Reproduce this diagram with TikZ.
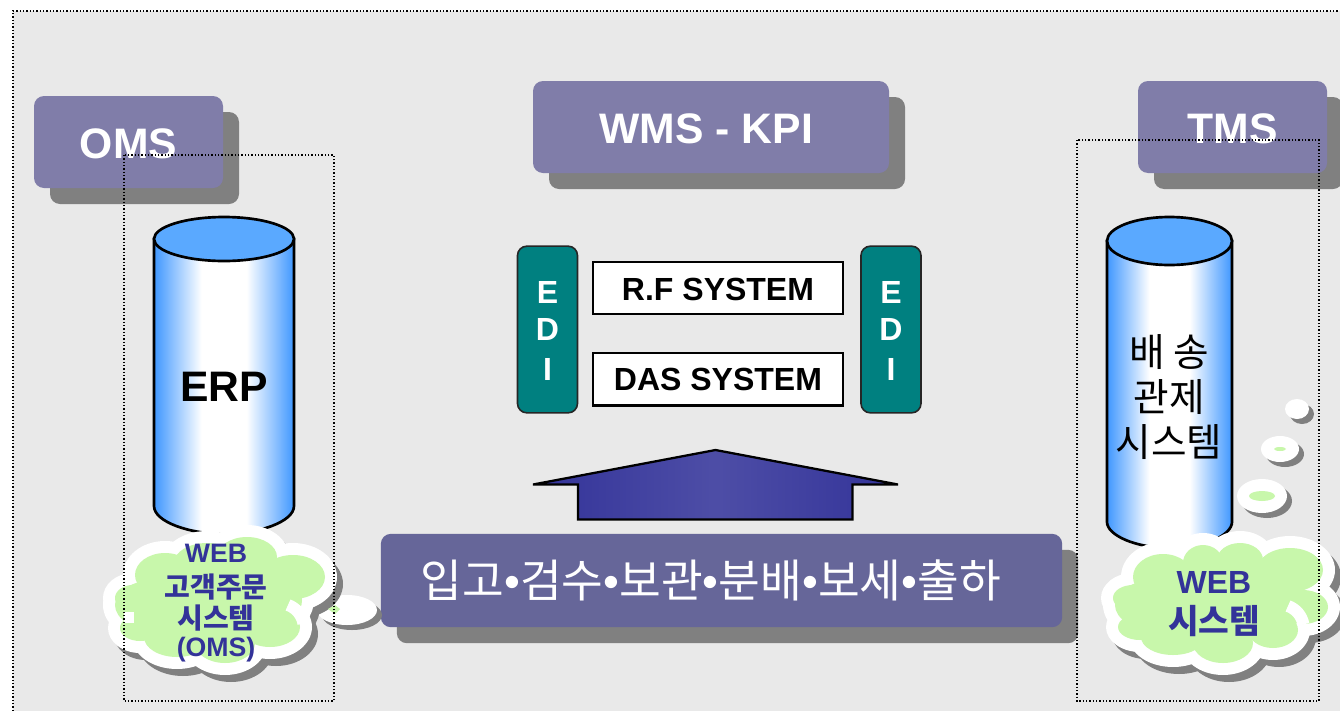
\documentclass[tikz,border=0pt]{standalone}
\usepackage{fontspec}
\setmainfont{Liberation Sans}
\newfontfamily\krfont{Noto Sans CJK KR}
\usetikzlibrary{shadows}
\usetikzlibrary{positioning}
\definecolor{panelgray}{HTML}{E9E9E9}
\definecolor{boxviolet}{HTML}{807DA9}
\definecolor{bandviolet}{HTML}{666699}
\definecolor{edigreen}{HTML}{008080}
\definecolor{cloudgreen}{HTML}{C8F7AB}
\definecolor{cloudtext}{HTML}{333399}
\definecolor{cylblue}{HTML}{3F97FF}
\definecolor{cyltop}{HTML}{5AA9FF}
\pgfdeclarehorizontalshading{cylshade}{100bp}{color(0bp)=(cylblue); color(25bp)=(cylblue); color(42bp)=(white); color(58bp)=(white); color(75bp)=(cylblue); color(100bp)=(cylblue)}
\pgfdeclarehorizontalshading{arrowshade}{100bp}{color(0bp)=(cloudtext); color(25bp)=(cloudtext); color(50bp)=(cloudtext!87!white); color(75bp)=(cloudtext); color(100bp)=(cloudtext)}
\newcommand{\lowered}[1]{\raisebox{-1.2pt}[\height][\depth]{#1}}
\tikzset{
  headbox/.style={rounded corners=7.5pt, fill=boxviolet, text=white, font=\bfseries\fontsize{32pt}{32pt}\selectfont,
    drop shadow={shadow xshift=12pt, shadow yshift=-12pt, fill=black!50, opacity=1}},
  edibox/.style={draw=black!85, line width=1.2pt, rounded corners=7pt, fill=edigreen, text=white, align=center,
    minimum width=45pt, minimum height=125pt, inner sep=0pt, font=\bfseries\fontsize{24pt}{29pt}\selectfont},
  sysbox/.style={draw=black, line width=1.6pt, fill=white, minimum width=187pt, minimum height=39.5pt, inner sep=0pt,
    font=\bfseries\fontsize{24pt}{24pt}\selectfont},
  cyllabel/.style={align=center, inner sep=0pt},
  cloudlabel/.style={align=center, inner sep=0pt, text=cloudtext},
  dotbox/.style={dash pattern=on 1.1pt off 1.4pt, line width=1.1pt}
}
% lobes are x/y/rx/ry in pixels
\newcommand{\cloudlobes}[3]{%
  \foreach \x/\y/\a/\b in {#1}
    \fill[#2] (\x,\y) ellipse[x radius=\a+#3, y radius=\b+#3];}
\newcommand{\fullcloud}[1]{%
  \begin{scope}[shift={(6,7)}]\cloudlobes{#1}{black!50}{12}\end{scope}
  \cloudlobes{#1}{white}{12}
  \cloudlobes{#1}{cloudgreen}{0}}
\newcommand{\bubble}[6]{%
  \fill[black!50] (#1+5,#2+5) ellipse[x radius=#3, y radius=#4];
  \fill[white] (#1,#2) ellipse[x radius=#3, y radius=#4];
  \fill[cloudgreen] (#1,#2) ellipse[x radius=#5, y radius=#6];}
\begin{document}
\begin{tikzpicture}[x=0.75pt, y=-0.75pt]
  \useasboundingbox (0,0) rectangle (1340,711);
  \fill[panelgray] (13,11) rectangle (1340,711);
  \draw[dotbox] (13,711) -- (13,11) -- (1340,11);

  % header boxes
  \node[headbox, minimum width=141.75pt, minimum height=69pt] (oms) at (128.5,142) {\lowered{OMS}};
  \node[headbox, minimum width=267pt, minimum height=69pt] (wms) at (711,127) {\hspace{-7pt}\lowered{WMS - KPI}};
  \node[headbox, minimum width=141.75pt, minimum height=69pt] (tms) at (1232.5,127) {\lowered{TMS}};

  % cylinders
  \draw[line width=2pt, shading=cylshade, shading angle=0] (154,239) -- (154,506) .. controls (154,522) and (190,534) .. (224,534) .. controls (258,534) and (294,522) .. (294,506) -- (294,239) -- cycle;
  \draw[line width=2pt, fill=cyltop] (224,239) ellipse[x radius=70, y radius=22];
  \node[cyllabel, font=\bfseries\fontsize{32pt}{32pt}\selectfont] (erp) at (224,387) {ERP};

  \draw[line width=2pt, shading=cylshade, shading angle=0] (1107,241) -- (1107,522) .. controls (1107,535) and (1135,548) .. (1170,548) .. controls (1205,548) and (1232,535) .. (1232,522) -- (1232,241) -- cycle;
  \draw[line width=2pt, fill=cyltop] (1169.5,241) ellipse[x radius=62.5, y radius=24];
  \node[cyllabel, font=\krfont\fontsize{29pt}{33.5pt}\selectfont] (ctrl) at (1169,397) {배 송\\관제\\시스템};

  % centre stack
  \node[edibox] (edil) at (547.5,329.5) {\lowered{E}\\D\\\lowered{I}};
  \node[sysbox] (rf) at (718,288) {\lowered{R.F SYSTEM}};
  \node[sysbox, below=27.3pt of rf] (das) {DAS SYSTEM};
  \node[edibox] (edir) at (891,329.5) {\lowered{E}\\D\\\lowered{I}};

  % up arrow
  \draw[line width=1.7pt, shading=arrowshade, shading angle=0] (533,484.5) -- (715.5,450) -- (898,484.5) -- (852.5,484.5) -- (852.5,519.5) -- (578,519.5) -- (578,484.5) -- cycle;

  % process band
  \node[rounded corners=7.5pt, fill=bandviolet, text=white, minimum width=511pt, minimum height=70pt,
    drop shadow={shadow xshift=12pt, shadow yshift=-12pt, fill=black!50, opacity=1},
    font=\krfont\fontsize{34pt}{34pt}\selectfont] (proc) at (721.5,580.5)
    {\hspace{-16pt}입고{\rmfamily•}검수{\rmfamily•}보관{\rmfamily•}분배{\rmfamily•}보세{\rmfamily•}출하};

  % left cloud
  \bubble{347}{610}{30}{15}{0}{0}
  \fullcloud{165/575/30/22, 133/598/18/13, 140/628/20/13, 177/637/33/20, 225/643/30/20, 270/627/30/20, 293/577/32/22, 247/557/30/20, 207/563/33/20, 220/600/82/42, 155/605/40/25}
  \draw[white, line width=9pt] (288,605) arc[start angle=-70, end angle=-10, radius=24];
  \fill[white] (124,612) rectangle (134,623);
  \fill[cloudgreen] (328,609) -- (335,605) -- (340,609) -- (335,614) -- cycle;
  \node[cloudlabel, font=\bfseries\fontsize{20pt}{24pt}\selectfont] (weba) at (216,553) {WEB};
  \node[cloudlabel, font=\krfont\bfseries\fontsize{21pt}{24pt}\selectfont] (webb) at (216,587) {고객주문};
  \node[cloudlabel, font=\krfont\bfseries\fontsize{21pt}{24pt}\selectfont] (webc) at (216,618) {시스템};
  \node[cloudlabel, font=\bfseries\fontsize{20pt}{24pt}\selectfont] (webd) at (216,650) {(OMS)};

  % right cloud with its tail
  \bubble{1297}{409}{12}{10}{0}{0}
  \bubble{1280}{449}{19}{13}{6}{2}
  \bubble{1262}{496}{25}{17}{13}{5}
  \fullcloud{1163/577/30/23, 1133/598/20/13, 1140/627/22/13, 1173/637/32/18, 1223/643/30/20, 1273/630/25/18, 1303/607/25/17, 1290/570/33/22, 1240/560/23/17, 1203/563/20/18, 1220/600/85/42, 1155/605/40/25}
  \draw[white, line width=9pt] (1288,606) arc[start angle=-70, end angle=-10, radius=24];
  \node[cloudlabel, font=\bfseries\fontsize{24pt}{24pt}\selectfont] (webe) at (1214,582) {WEB};
  \node[cloudlabel, font=\krfont\bfseries\fontsize{25pt}{24pt}\selectfont] (webf) at (1214,621) {시스템};

  % dotted frames on top
  \draw[dotbox] (124,155) rectangle (334,701);
  \draw[dotbox] (1077,140) rectangle (1319,701);
\end{tikzpicture}
\end{document}
